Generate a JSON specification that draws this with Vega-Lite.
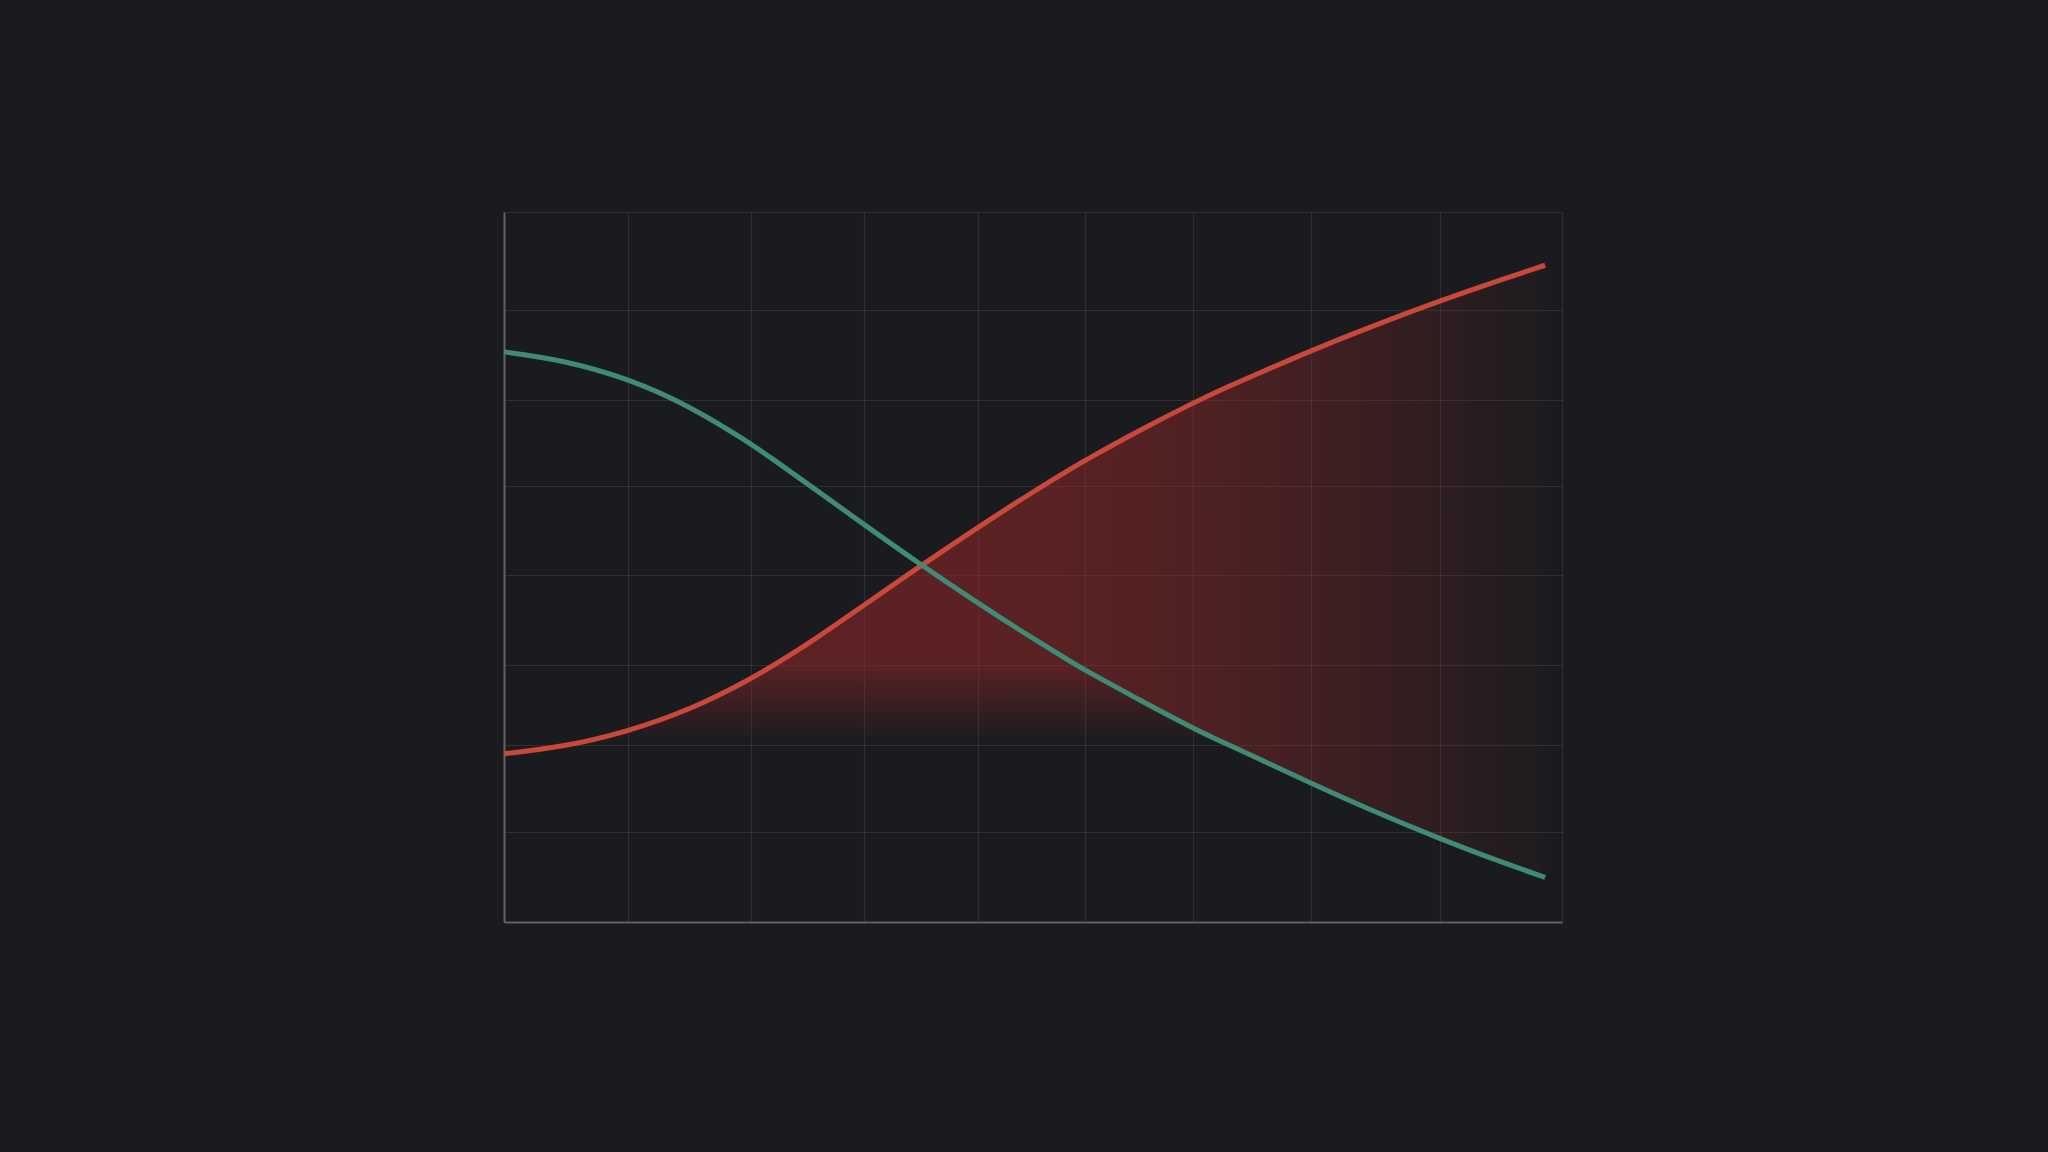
{
  "$schema": "https://vega.github.io/schema/vega-lite/v6.json",
  "width": 1058,
  "height": 710,
  "autosize": {"type": "none"},
  "padding": {"left": 504, "top": 212, "right": 486, "bottom": 230},
  "background": "#1a1b1f",
  "config": {
    "view": {"stroke": null},
    "axis": {
      "labels": false,
      "ticks": false,
      "title": null,
      "domainColor": "#5f6166",
      "domainWidth": 2,
      "gridColor": "#ffffff",
      "gridOpacity": 0.09,
      "gridWidth": 1.2,
      "minExtent": 0,
      "maxExtent": 0
    }
  },
  "datasets": {
    "lines": [
      {"x": 0, "s": "rising", "v": 23.7},
      {"x": 0.54, "s": "rising", "v": 24.6},
      {"x": 1.17, "s": "rising", "v": 26.8},
      {"x": 1.78, "s": "rising", "v": 30.0},
      {"x": 2.33, "s": "rising", "v": 34.2},
      {"x": 2.53, "s": "rising", "v": 36.0},
      {"x": 2.89, "s": "rising", "v": 39.3},
      {"x": 3.4, "s": "rising", "v": 44.6},
      {"x": 3.94, "s": "rising", "v": 50.2},
      {"x": 4.48, "s": "rising", "v": 55.6},
      {"x": 4.99, "s": "rising", "v": 60.5},
      {"x": 5.41, "s": "rising", "v": 64.3},
      {"x": 5.49, "s": "rising", "v": 65.0},
      {"x": 6.0, "s": "rising", "v": 69.2},
      {"x": 6.51, "s": "rising", "v": 73.1},
      {"x": 6.84, "s": "rising", "v": 75.4},
      {"x": 7.09, "s": "rising", "v": 77.0},
      {"x": 7.63, "s": "rising", "v": 80.5},
      {"x": 8.2, "s": "rising", "v": 83.9},
      {"x": 8.85, "s": "rising", "v": 87.5},
      {"x": 9.43, "s": "rising", "v": 90.5},
      {"x": 9.84, "s": "rising", "v": 92.5},
      {"x": 0, "s": "falling", "v": 80.3},
      {"x": 0.54, "s": "falling", "v": 79.2},
      {"x": 1.17, "s": "falling", "v": 76.6},
      {"x": 1.78, "s": "falling", "v": 72.5},
      {"x": 2.33, "s": "falling", "v": 67.4},
      {"x": 2.53, "s": "falling", "v": 65.3},
      {"x": 2.89, "s": "falling", "v": 61.5},
      {"x": 3.4, "s": "falling", "v": 56.0},
      {"x": 3.94, "s": "falling", "v": 50.3},
      {"x": 4.48, "s": "falling", "v": 44.9},
      {"x": 4.99, "s": "falling", "v": 40.0},
      {"x": 5.41, "s": "falling", "v": 36.2},
      {"x": 5.49, "s": "falling", "v": 35.5},
      {"x": 6.0, "s": "falling", "v": 31.3},
      {"x": 6.51, "s": "falling", "v": 27.3},
      {"x": 6.84, "s": "falling", "v": 25.0},
      {"x": 7.09, "s": "falling", "v": 23.3},
      {"x": 7.63, "s": "falling", "v": 19.5},
      {"x": 8.2, "s": "falling", "v": 15.7},
      {"x": 8.85, "s": "falling", "v": 11.7},
      {"x": 9.43, "s": "falling", "v": 8.4},
      {"x": 9.84, "s": "falling", "v": 6.3}
    ],
    "band": [
      {"x": 0, "top": 23.7, "bottom": 23.7},
      {"x": 0.54, "top": 24.6, "bottom": 24.6},
      {"x": 1.17, "top": 26.8, "bottom": 26.8},
      {"x": 1.78, "top": 30.0, "bottom": 30.0},
      {"x": 2.33, "top": 34.2, "bottom": 34.2},
      {"x": 2.53, "top": 36.2, "bottom": 36.2},
      {"x": 2.89, "top": 39.3, "bottom": 36.2},
      {"x": 3.4, "top": 44.6, "bottom": 36.2},
      {"x": 3.94, "top": 50.2, "bottom": 36.2},
      {"x": 4.48, "top": 55.6, "bottom": 36.2},
      {"x": 4.99, "top": 60.5, "bottom": 36.2},
      {"x": 5.41, "top": 64.3, "bottom": 36.2},
      {"x": 5.49, "top": 65.0, "bottom": 35.5},
      {"x": 6.0, "top": 69.2, "bottom": 31.3},
      {"x": 6.51, "top": 73.1, "bottom": 27.3},
      {"x": 6.84, "top": 75.4, "bottom": 25.0},
      {"x": 7.09, "top": 77.0, "bottom": 23.3},
      {"x": 7.63, "top": 80.5, "bottom": 19.5},
      {"x": 8.2, "top": 83.9, "bottom": 15.7},
      {"x": 8.85, "top": 87.5, "bottom": 11.7},
      {"x": 9.43, "top": 90.5, "bottom": 8.4},
      {"x": 9.84, "top": 92.5, "bottom": 6.3}
    ],
    "fade": [
      {"x": 0.65, "top": 25.0, "bottom": 25.0},
      {"x": 1.17, "top": 26.8, "bottom": 25.0},
      {"x": 1.78, "top": 30.0, "bottom": 25.0},
      {"x": 2.33, "top": 34.2, "bottom": 25.0},
      {"x": 2.53, "top": 36.2, "bottom": 25.0},
      {"x": 2.89, "top": 36.2, "bottom": 25.0},
      {"x": 3.4, "top": 36.2, "bottom": 25.0},
      {"x": 3.94, "top": 36.2, "bottom": 25.0},
      {"x": 4.48, "top": 36.2, "bottom": 25.0},
      {"x": 4.99, "top": 36.2, "bottom": 25.0},
      {"x": 5.41, "top": 36.2, "bottom": 25.0},
      {"x": 5.49, "top": 35.5, "bottom": 25.0},
      {"x": 6.0, "top": 31.3, "bottom": 25.0},
      {"x": 6.51, "top": 27.3, "bottom": 25.0},
      {"x": 6.84, "top": 25.0, "bottom": 25.0}
    ]
  },
  "layer": [
    {
      "data": {"name": "band"},
      "mark": {
        "type": "area",
        "interpolate": "monotone",
        "color": {
          "gradient": "linear",
          "x1": 0, "y1": 0, "x2": 1, "y2": 0,
          "stops": [
            {"offset": 0, "color": "rgba(150,40,38,0.54)"},
            {"offset": 0.46, "color": "rgba(150,40,38,0.53)"},
            {"offset": 0.6, "color": "rgba(150,40,38,0.47)"},
            {"offset": 0.7, "color": "rgba(150,40,38,0.40)"},
            {"offset": 0.8, "color": "rgba(150,40,38,0.29)"},
            {"offset": 0.89, "color": "rgba(150,40,38,0.17)"},
            {"offset": 0.95, "color": "rgba(150,40,38,0.09)"},
            {"offset": 1, "color": "rgba(150,40,38,0.03)"}
          ]
        }
      },
      "encoding": {
        "x": {
          "field": "x", "type": "quantitative",
          "scale": {"domain": [0, 10], "nice": false, "zero": false},
          "axis": {"values": [0, 1.17, 2.33, 3.4, 4.48, 5.49, 6.51, 7.63, 8.85, 10]}
        },
        "y": {
          "field": "top", "type": "quantitative",
          "scale": {"domain": [0, 100], "nice": false},
          "axis": {"values": [0, 12.7, 25.0, 36.2, 48.9, 61.4, 73.5, 86.2, 100]}
        },
        "y2": {"field": "bottom"}
      }
    },
    {
      "data": {"name": "fade"},
      "mark": {
        "type": "area",
        "interpolate": "monotone",
        "color": {
          "gradient": "linear",
          "x1": 0, "y1": 0, "x2": 0, "y2": 1,
          "stops": [
            {"offset": 0, "color": "rgba(150,40,38,0.52)"},
            {"offset": 0.5, "color": "rgba(150,40,38,0.24)"},
            {"offset": 1, "color": "rgba(150,40,38,0.0)"}
          ]
        }
      },
      "encoding": {
        "x": {"field": "x", "type": "quantitative"},
        "y": {"field": "top", "type": "quantitative"},
        "y2": {"field": "bottom"}
      }
    },
    {
      "data": {"name": "lines"},
      "transform": [{"filter": "datum.s === 'rising'"}],
      "mark": {"type": "line", "interpolate": "basis", "strokeWidth": 5, "strokeCap": "butt", "color": "#c8483a"},
      "encoding": {
        "x": {"field": "x", "type": "quantitative"},
        "y": {"field": "v", "type": "quantitative"}
      }
    },
    {
      "data": {"name": "lines"},
      "transform": [{"filter": "datum.s === 'falling'"}],
      "mark": {"type": "line", "interpolate": "basis", "strokeWidth": 5, "strokeCap": "butt", "color": "#3f8b75"},
      "encoding": {
        "x": {"field": "x", "type": "quantitative"},
        "y": {"field": "v", "type": "quantitative"}
      }
    }
  ]
}
